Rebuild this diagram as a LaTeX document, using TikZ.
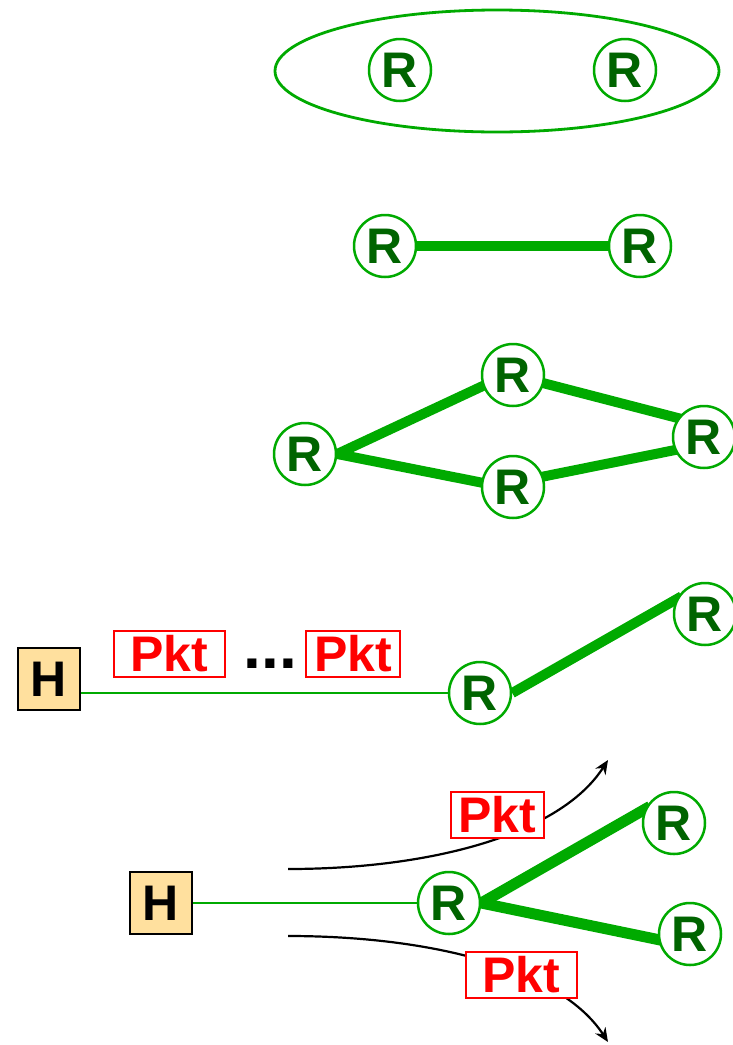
\documentclass[tikz,border=0pt]{standalone}
\usepackage{fontspec}
\setmainfont{Liberation Sans}
\usetikzlibrary{arrows.meta,backgrounds}

\definecolor{linkgreen}{RGB}{0,170,0}
\definecolor{routergreen}{RGB}{0,100,0}
\definecolor{hostfill}{RGB}{255,224,158}

\begin{document}
\begin{tikzpicture}[x=1pt,y=-1pt,
  big/.style={font=\fontsize{50}{60}\selectfont\bfseries},
  router/.style={big,circle,draw=linkgreen,line width=2.5pt,fill=white,minimum size=62pt,inner sep=0pt,text=routergreen},
  host/.style={big,draw=black,line width=2.5pt,fill=hostfill,minimum size=62pt,inner sep=0pt},
  pkt/.style={big,draw=red,line width=2pt,fill=white,text=red,minimum height=46pt,inner xsep=8pt,inner ysep=0pt},
  trunk/.style={linkgreen,line width=10pt,shorten >=-6pt},
  wire/.style={linkgreen,line width=2.5pt},
  flow/.style={line width=2.2pt,-{Stealth[length=14pt,width=12pt]}}]
\useasboundingbox (0,0) rectangle (732,1045);

\draw[wire,line width=2.8pt] (497,71) ellipse [x radius=222pt,y radius=61pt];
\node[router] (a1) at (400,70) {R};
\node[router] (a2) at (625,70) {R};

\node[router] (b1) at (385,246) {R};
\node[router] (b2) at (640,246) {R};

\node[router] (c1) at (305,454) {R};
\node[router] (c2) at (513,375) {R};
\node[router] (c3) at (513,487) {R};
\node[router] (c4) at (704,437) {R};

\node[host] (h1) at (49,679) {H};
\node[pkt,minimum width=111pt] (p1) at (169,654) {Pkt};
\node[font=\fontsize{64}{70}\selectfont\bfseries,inner sep=0pt] (dots) at (270.5,663.5) {...};
\node[pkt] (p2) at (353,654) {Pkt};
\node[router] (d1) at (480,693) {R};
\node[router] (d2) at (705,614) {R};

\node[host] (h2) at (161,903) {H};
\node[router] (e1) at (449,903) {R};
\node[router] (e2) at (674,823) {R};
\node[router] (e3) at (690,934) {R};

\begin{pgfonlayer}{background}
\draw[trunk,shorten <=-6pt] (b1) -- (b2);
\draw[trunk] (c1.east) -- (c2.200);
\draw[trunk] (c1.east) -- (c3.172);
\draw[trunk,shorten <=-6pt] (c2.345) -- (c4.144);
\draw[trunk,shorten <=-6pt] (c3.19) -- (c4.204);
\draw[wire] (h1.east |- d1) -- (d1);
\draw[trunk] (d1.east) -- (d2.153);
\draw[wire] (h2) -- (e1);
\draw[trunk,line width=11pt] (e1.east) -- (e2.155);
\draw[trunk,line width=11pt] (e1.east) -- (e3.190);
\end{pgfonlayer}

\coordinate (u0) at (288,869);
\coordinate (u1) at (608,760);
\coordinate (l0) at (288,936);
\coordinate (l1) at (608,1042);
\draw[flow] (u0) .. controls (430,869) and (560,835) .. (u1);
\draw[flow] (l0) .. controls (430,936) and (560,968) .. (l1);
\node[pkt] (q1) at (497.5,814.5) {Pkt};
\node[pkt,minimum width=111pt] (q2) at (521.5,974.5) {Pkt};
\end{tikzpicture}
\end{document}
